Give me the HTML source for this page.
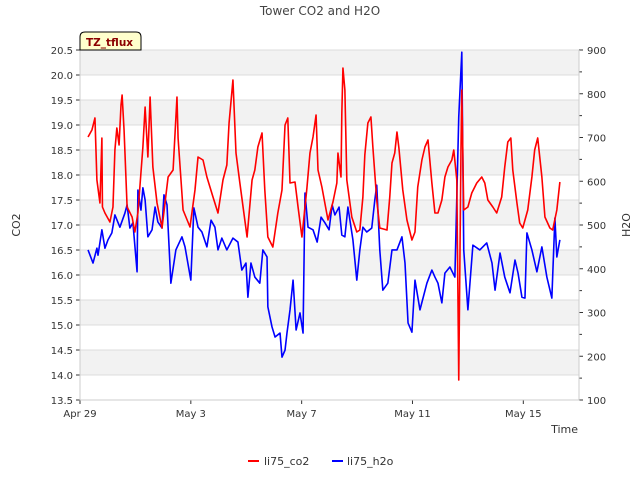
<!DOCTYPE html>
<html><head><meta charset="utf-8"><style>
body{margin:0;background:#fff;}
svg{display:block;font-family:"DejaVu Sans","Liberation Sans",sans-serif;}
</style></head><body>
<svg id="chart" width="640" height="480"></svg>
<script>
const dayOffsets = [0,4,8,12,16];
const xTickLabels = ["Apr 29","May 3","May 7","May 11","May 15"];
const co2Ticks = [13.5,14,14.5,15,15.5,16,16.5,17,17.5,18,18.5,19,19.5,20,20.5];
const h2oTicks = [100,200,300,400,500,600,700,800,900];
const co2Days = [0.29,0.43,0.54,0.61,0.72,0.79,0.81,0.90,1.08,1.19,1.26,1.33,1.41,1.48,1.52,1.59,1.70,1.88,1.98,2.09,2.27,2.35,2.45,2.53,2.63,2.78,2.96,3.18,3.36,3.50,3.54,3.72,3.97,4.15,4.26,4.44,4.58,4.80,4.98,5.16,5.30,5.38,5.52,5.63,5.77,6.03,6.21,6.31,6.42,6.57,6.67,6.78,6.96,7.14,7.29,7.40,7.50,7.58,7.76,7.87,8.01,8.19,8.30,8.41,8.52,8.59,8.73,8.95,9.13,9.27,9.31,9.42,9.45,9.49,9.56,9.63,9.81,9.99,10.10,10.21,10.28,10.39,10.50,10.57,10.71,10.82,11.08,11.18,11.26,11.36,11.44,11.51,11.65,11.80,11.98,12.09,12.19,12.34,12.45,12.56,12.70,12.81,12.92,13.06,13.17,13.28,13.42,13.49,13.60,13.67,13.75,13.78,13.85,14.00,14.14,14.32,14.50,14.61,14.72,14.90,15.04,15.22,15.33,15.44,15.55,15.62,15.77,15.87,15.98,16.16,16.31,16.41,16.52,16.67,16.78,16.96,17.06,17.21,17.32];
const co2Values = [18.76,18.9,19.14,17.9,17.44,18.74,17.36,17.24,17.06,17.36,18.5,18.94,18.6,19.4,19.6,18.9,17.36,17.16,16.86,17.24,18.56,19.36,18.36,19.56,18.16,17.44,16.94,17.96,18.1,19.56,18.74,17.3,16.96,17.7,18.36,18.3,17.96,17.56,17.24,17.9,18.2,19.04,19.9,18.44,17.84,16.76,17.9,18.1,18.56,18.84,17.7,16.76,16.56,17.24,17.7,19.0,19.14,17.84,17.86,17.36,16.76,17.74,18.44,18.76,19.2,18.1,17.76,17.1,17.46,17.84,18.44,17.96,19.24,20.14,19.7,17.9,17.16,16.86,16.9,17.56,18.4,19.04,19.16,18.56,17.5,16.94,16.9,17.56,18.24,18.44,18.86,18.54,17.7,17.1,16.7,16.86,17.76,18.3,18.56,18.7,17.84,17.24,17.24,17.5,17.96,18.16,18.3,18.5,17.9,13.9,18.5,19.7,17.3,17.36,17.64,17.84,17.96,17.84,17.5,17.36,17.24,17.56,18.16,18.66,18.74,18.1,17.44,17.04,16.94,17.3,17.96,18.5,18.74,17.96,17.16,16.94,16.9,17.3,17.86];
const h2oDays = [0.29,0.47,0.61,0.65,0.79,0.90,1.01,1.15,1.26,1.44,1.62,1.70,1.80,1.91,2.06,2.09,2.20,2.27,2.35,2.45,2.60,2.71,2.81,2.96,3.03,3.14,3.28,3.46,3.68,3.79,4.00,4.11,4.26,4.40,4.58,4.73,4.87,4.98,5.12,5.30,5.52,5.70,5.84,5.99,6.06,6.17,6.31,6.49,6.60,6.75,6.78,6.93,7.04,7.22,7.29,7.40,7.47,7.58,7.69,7.80,7.94,8.05,8.12,8.23,8.41,8.56,8.70,8.84,8.99,9.10,9.20,9.35,9.45,9.56,9.67,9.85,9.99,10.10,10.21,10.35,10.53,10.64,10.71,10.82,10.93,11.11,11.26,11.44,11.62,11.73,11.84,11.98,12.09,12.27,12.52,12.70,12.81,12.92,13.06,13.17,13.35,13.53,13.67,13.78,13.85,14.00,14.18,14.43,14.68,14.87,14.98,15.16,15.33,15.52,15.70,15.81,15.95,16.06,16.13,16.31,16.49,16.67,16.85,17.03,17.14,17.21,17.32];
const h2oValues = [443,413,447,431,489,447,466,482,523,495,527,546,493,505,393,580,534,585,557,473,489,541,507,493,569,546,367,443,473,450,374,539,495,484,450,511,495,443,470,443,470,461,397,413,335,413,381,367,443,427,313,267,244,253,198,214,253,306,374,260,299,253,573,495,489,461,518,505,489,546,523,541,477,473,541,466,374,443,495,484,493,557,591,443,351,367,443,443,473,413,276,255,374,306,367,397,381,367,322,390,404,381,747,895,443,306,454,443,459,413,351,436,381,345,420,390,335,333,482,443,393,450,381,333,516,427,466];

const NS="http://www.w3.org/2000/svg";
const svg=document.getElementById('chart');
const L=80,R=579,T=50,B=400;
const xS=d=>L+(d/18.01)*(R-L);
const yL=v=>B-(v-13.5)/7*(B-T);
const yR=v=>B-(v-100)/800*(B-T);
function mk(tag,attrs,parent){const e=document.createElementNS(NS,tag);for(const k in attrs)e.setAttribute(k,attrs[k]);(parent||svg).appendChild(e);return e;}

for(let i=0;i<co2Ticks.length-1;i++){
  if(i%2===0){
    const b=mk('rect',{x:L,y:yL(co2Ticks[co2Ticks.length-1-i]),width:R-L,height:yL(co2Ticks[co2Ticks.length-2-i])-yL(co2Ticks[co2Ticks.length-1-i]),fill:'#f2f2f2'});
    
    
  }
}
co2Ticks.forEach(v=>{
  const g=mk('line',{x1:L,x2:R,y1:yL(v),y2:yL(v),stroke:'#dcdcdc','stroke-width':1});
  
  
  const t=mk('line',{x1:L-4,x2:L,y1:yL(v),y2:yL(v),stroke:'#333'});
  
  
  const tx=mk('text',{x:L-7,y:yL(v)+4,'text-anchor':'end','font-size':10,fill:'#333'});
  tx.textContent=v.toFixed(1);
  
  
});
h2oTicks.forEach((v,i)=>{
  const t=mk('line',{x1:R,x2:R+4,y1:yR(v),y2:yR(v),stroke:'#333'});
  
  
  if(i<h2oTicks.length-1){
    const m=mk('line',{x1:R,x2:R+3,y1:yR(v+50),y2:yR(v+50),stroke:'#333'});
    
    
  }
  const tx=mk('text',{x:R+8,y:yR(v)+4,'font-size':10,fill:'#333'});
  tx.textContent=v;
  
  
});
dayOffsets.forEach((d,i)=>{
  const t=mk('line',{x1:xS(d),x2:xS(d),y1:B,y2:B+4,stroke:'#333'});
  
  
  const tx=mk('text',{x:xS(d),y:B+17,'text-anchor':'middle','font-size':10,fill:'#333'});
  tx.textContent=xTickLabels[i];
  
  
});
const ax=mk('path',{d:`M${L},${T}V${B}H${R}V${T}`,fill:'none',stroke:'#ccc'});



const ph=mk('polyline',{points:h2oDays.map((d,i)=>xS(d)+','+yR(h2oValues[i])).join(' '),fill:'none',stroke:'#0000ff','stroke-width':1.6,'stroke-linejoin':'round'});


const pc=mk('polyline',{points:co2Days.map((d,i)=>xS(d)+','+yL(co2Values[i])).join(' '),fill:'none',stroke:'#ff0000','stroke-width':1.6,'stroke-linejoin':'round'});


</script>
<svg style="position:absolute;left:0;top:0;font-family:'DejaVu Sans','Liberation Sans',sans-serif" width="640" height="480">
<text x="320" y="15" text-anchor="middle" font-size="12" fill="#444">Tower CO2 and H2O</text>
<path d="M80,50 V37 Q80,32 85,32 H136 Q141,32 141,37 V50 Z" fill="#ffffcc" stroke="#000" stroke-width="1"/>
<text x="86" y="46" font-size="10.5" font-weight="bold" fill="#8b0000">TZ_tflux</text>
<text x="20" y="225" text-anchor="middle" font-size="11" fill="#333" transform="rotate(-90 20 225)">CO2</text>
<text x="630" y="225" text-anchor="middle" font-size="11" fill="#333" transform="rotate(-90 630 225)">H2O</text>
<text x="578" y="433" text-anchor="end" font-size="11" fill="#333">Time</text>
<g>
<line x1="248" x2="259" y1="461" y2="461" stroke="#ff0000" stroke-width="2"/>
<text x="264" y="465" font-size="11" fill="#333">li75_co2</text>
</g>
<g>
<line x1="332" x2="343" y1="461" y2="461" stroke="#0000ff" stroke-width="2"/>
<text x="347" y="465" font-size="11" fill="#333">li75_h2o</text>
</g>
</svg>
</body></html>
